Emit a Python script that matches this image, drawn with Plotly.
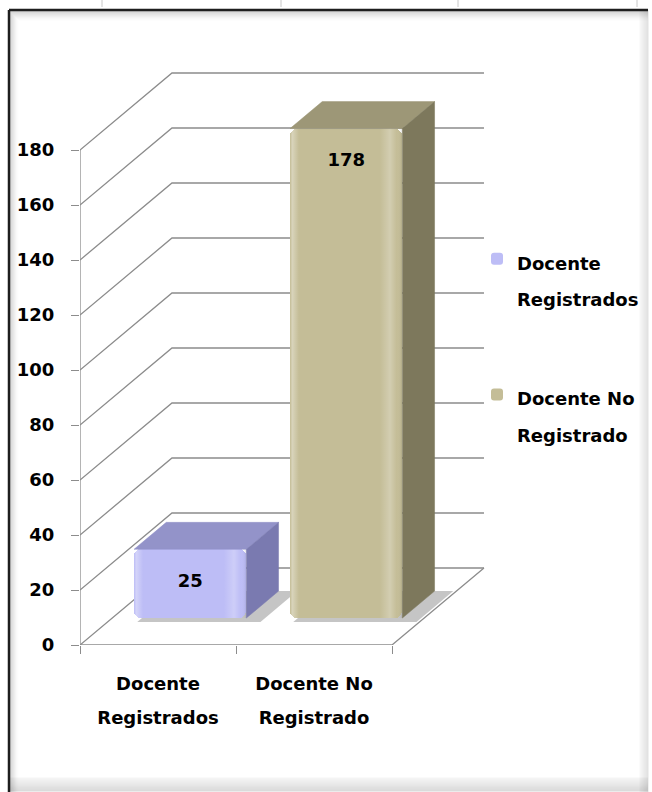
import plotly.graph_objects as go

# ---------------- data ----------------
categories = ["Docente<br>Registrados", "Docente No<br>Registrado"]
series_names = ["Docente<br>Registrados", "Docente No<br>Registrado"]
values = [25, 178]
y_ticks = [0, 20, 40, 60, 80, 100, 120, 140, 160, 180]
value_labels = ["25", "178"]

# ---------------- styling ----------------
front_colors = ["#BDBDF6", "#C4BD97"]
top_colors = ["#9393C9", "#9D9777"]
side_colors = ["#7A7AB0", "#7D785C"]
grid_color = "#8C8C8C"
FONT = "DejaVu Sans"

W, H = 652, 792
PL, PR, PT, PB = 80, 490, 60, 645      # plot area in pixels
X_PX = 156.0                            # pixels per category unit
Y_PX = 2.75                             # pixels per value unit
DX = 92 / X_PX                          # depth offset (x units)
DY = 77 / Y_PX                          # depth offset (value units)
BAR_W = 0.72
D_FRONT = 0.35
D_BACK = 0.70
LABEL_DROP = 12


def proj(x, y, d):
    return x + d * DX, y + d * DY


def px_x(px):
    return (px - PL) / (PR - PL)


def px_y(py):
    return (PB - py) / (PB - PT)


def styled(txt, size=18):
    return "<br>".join(f"<span style='font-size:{size}px'>{p}</span>" for p in txt.split("<br>"))


def path_of(pts, close=False):
    s = "M" + " L".join(f"{x:.4f},{y:.4f}" for x, y in pts)
    return s + (" Z" if close else "")


fig = go.Figure()
shapes = []
n = len(values)
x_max = float(n)

# walls / gridlines (drawn below bars)
for t in y_ticks:
    pts = [proj(0, t, 0), proj(0, t, 1), proj(x_max, t, 1)]
    shapes.append(dict(type="path", path=path_of(pts), xref="x", yref="y", layer="below",
                       line=dict(color=grid_color, width=1.3)))
# floor front + right edge
shapes.append(dict(type="path", path=path_of([proj(0, 0, 0), proj(x_max, 0, 0), proj(x_max, 0, 1)]),
                   xref="x", yref="y", layer="below", line=dict(color=grid_color, width=1.3)))
# value axis line
shapes.append(dict(type="path", path=path_of([proj(0, 0, 0), proj(0, y_ticks[-1], 0)]),
                   xref="x", yref="y", layer="below", line=dict(color=grid_color, width=1.3)))

for i, v in enumerate(values):
    c = i + 0.5
    x0, x1 = c - BAR_W / 2, c + BAR_W / 2
    # floor shadow
    sh = [proj(x0 + 0.05, 0, D_FRONT - 0.05), proj(x1 + 0.12, 0, D_FRONT - 0.05),
          proj(x1 + 0.12, 0, D_BACK), proj(x0 + 0.05, 0, D_BACK)]
    shapes.append(dict(type="path", path=path_of(sh, True), xref="x", yref="y", layer="below",
                       fillcolor="rgba(110,110,110,0.40)", line=dict(width=0)))
    fx, fb = proj(c, 0, D_FRONT)
    fig.add_trace(go.Bar(
        x=[fx], y=[v], base=[fb], width=[BAR_W],
        marker=dict(color=front_colors[i], cornerradius=7, line=dict(width=0)),
        name=styled(series_names[i]), legendgroup=f"g{i}", showlegend=True, hoverinfo="skip"))
    # bevel shading on front face
    fr = [proj(x0, 0, D_FRONT), proj(x1, 0, D_FRONT), proj(x1, v, D_FRONT), proj(x0, v, D_FRONT)]
    fig.add_trace(go.Scatter(
        x=[p[0] for p in fr] + [fr[0][0]], y=[p[1] for p in fr] + [fr[0][1]],
        mode="lines", fill="toself", line=dict(width=0, color="rgba(0,0,0,0)"),
        fillgradient=dict(type="horizontal", colorscale=[
            [0, "rgba(255,255,255,0.0)"], [0.02, "rgba(255,255,255,0.35)"], [0.08, "rgba(255,255,255,0)"],
            [0.80, "rgba(255,255,255,0)"], [0.89, "rgba(255,255,255,0.25)"], [0.95, "rgba(255,255,255,0)"],
            [1, "rgba(0,0,0,0.08)"]]),
        showlegend=False, legendgroup=f"g{i}", hoverinfo="skip"))
    # top face
    tp = [proj(x0, v, D_FRONT), proj(x1, v, D_FRONT), proj(x1, v, D_BACK), proj(x0, v, D_BACK)]
    fig.add_trace(go.Scatter(
        x=[p[0] for p in tp] + [tp[0][0]], y=[p[1] for p in tp] + [tp[0][1]],
        mode="lines", fill="toself", fillcolor=top_colors[i], line=dict(width=0.5, color=top_colors[i]),
        showlegend=False, legendgroup=f"g{i}", hoverinfo="skip"))
    # right side face
    sp = [proj(x1, 0, D_FRONT), proj(x1, v, D_FRONT), proj(x1, v, D_BACK), proj(x1, 0, D_BACK)]
    fig.add_trace(go.Scatter(
        x=[p[0] for p in sp] + [sp[0][0]], y=[p[1] for p in sp] + [sp[0][1]],
        mode="lines", fill="toself", fillcolor=side_colors[i], line=dict(width=0.5, color=side_colors[i]),
        showlegend=False, legendgroup=f"g{i}", hoverinfo="skip"))
    # value label
    fig.add_trace(go.Scatter(
        x=[fx], y=[fb + v - LABEL_DROP], mode="text", text=[value_labels[i]],
        textfont=dict(family=FONT, size=18, color="black", weight="bold"),
        showlegend=False, legendgroup=f"g{i}", hoverinfo="skip"))

# ---------------- frame decoration (paper coords) ----------------
def pline(xa, ya, xb, yb, color, width):
    shapes.append(dict(type="line", xref="paper", yref="paper", layer="above",
                       x0=px_x(xa), y0=px_y(ya), x1=px_x(xb), y1=px_y(yb),
                       line=dict(color=color, width=width)))

L_, T_, R_, B_ = 9, 10, 648, 792
# inner shadow top & left
for k in range(1, 12):
    a = 0.22 * (1 - k / 12) ** 1.5
    pline(L_ + k, T_ + k, R_, T_ + k, f"rgba(0,0,0,{a:.3f})", 1)
for k in range(1, 10):
    a = 0.22 * (1 - k / 10) ** 1.5
    pline(L_ + k, T_ + k, L_ + k, B_, f"rgba(0,0,0,{a:.3f})", 1)
# right & bottom soft shadow
for k in range(0, 9):
    a = 0.04 + 0.16 * (1 - k / 9)
    pline(R_ - k, T_, R_ - k, B_, f"rgba(0,0,0,{a * 0.6:.3f})", 1)
for k in range(0, 14):
    a = 0.03 + 0.12 * (1 - k / 14)
    pline(L_, B_ - 1 - k, R_, B_ - 1 - k, f"rgba(0,0,0,{a:.3f})", 1)
# dark outer border
pline(L_, T_, R_, T_, "#1E1E1E", 2.5)
pline(L_, T_, L_, B_, "#1E1E1E", 2.5)
# small sheet marks above frame
for mx in [102, 281, 458, 637]:
    pline(mx, 0, mx, 7, "#C8C8C8", 1)

fig.update_layout(
    width=W, height=H, autosize=False,
    margin=dict(l=PL, r=W - PR, t=PT, b=H - PB, pad=0, autoexpand=False),
    paper_bgcolor="white", plot_bgcolor="rgba(0,0,0,0)",
    barmode="overlay", bargap=0,
    shapes=shapes,
    showlegend=True,
    legend=dict(x=px_x(477), y=px_y(234), xanchor="left", yanchor="top",
                font=dict(family=FONT, size=28, color="black", weight="bold"),
                traceorder="grouped", tracegroupgap=60, valign="top",
                bgcolor="rgba(0,0,0,0)", itemclick=False, itemdoubleclick=False),
    xaxis=dict(range=[0, (PR - PL) / X_PX], showgrid=False, zeroline=False, showline=False,
               tickmode="array", tickvals=[i + 0.5 for i in range(n)],
               ticktext=[styled(cat) for cat in categories],
               ticks="", ticklabelstandoff=18,
               tickfont=dict(family=FONT, size=26, color="black", weight="bold"),
               minor=dict(tickmode="array", tickvals=[float(i) for i in range(n + 1)],
                          ticks="outside", ticklen=8, tickcolor=grid_color, tickwidth=1.3),
               fixedrange=True),
    yaxis=dict(range=[0, (PB - PT) / Y_PX], showgrid=False, zeroline=False, showline=False,
               tickmode="array", tickvals=y_ticks, ticks="outside", ticklen=8,
               tickcolor=grid_color, tickwidth=1.3, ticklabelstandoff=13,
               tickfont=dict(family=FONT, size=18, color="black", weight="bold"),
               fixedrange=True),
)

fig.write_html(
    "out.html",
    config={"displayModeBar": False},
    post_script="document.body.style.margin='0';document.body.style.overflow='hidden';",
)
